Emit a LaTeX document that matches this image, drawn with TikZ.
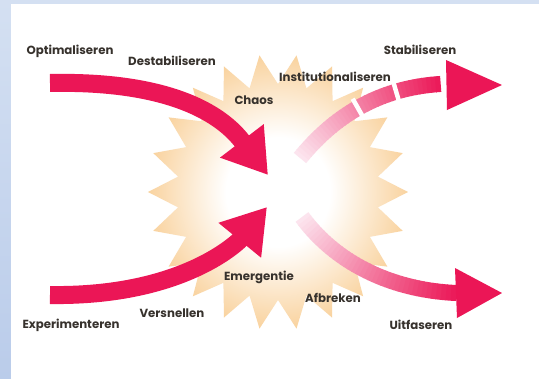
\documentclass[tikz,border=0pt]{standalone}
\usepackage{fontspec}
\setmainfont{Poppins}
\usetikzlibrary{arrows.meta}

\definecolor{crimson}{RGB}{235,22,86}
\definecolor{palePink}{RGB}{252,228,238}
\definecolor{starPeach}{RGB}{248,202,140}
\definecolor{labelGray}{RGB}{55,50,45}
\definecolor{frameTop}{RGB}{212,224,242}
\definecolor{frameBottom}{RGB}{186,204,234}

\pgfdeclareradialshading{starglow}{\pgfpoint{0bp}{0bp}}{%
    color(0bp)=(white); color(10bp)=(white);
    color(28bp)=(starPeach); color(50bp)=(starPeach)}

\tikzset{
    lbl/.style={font=\bfseries\fontsize{6.7}{8}\selectfont, text=labelGray, inner sep=0pt},
    flow/.style={line width=0.36cm, draw=crimson, -{Triangle[length=0.86cm,width=1.04cm]}},
    fadebit/.style={line width=0.32cm, line cap=butt, shorten >=-0.4pt},
    gapbar/.style={sloped, fill=white, inner sep=0pt, minimum width=0.09cm, minimum height=0.42cm}
}

\begin{document}
\begin{tikzpicture}[x=0.02cm, y=-0.02cm]
    \useasboundingbox (0,0) rectangle (539,379);
    % Frame
    \fill[white] (0,0) rectangle (539,379);
    \fill[top color=frameTop, bottom color=frameBottom] (0,0) rectangle (11,379);
    \fill[frameTop] (0,0) rectangle (539,4);
    % Burst
    \coordinate (burst) at (278,192);
    \begin{scope}[shift={(burst)}]
        \shade[shading=starglow] (0:130 and 138)
            \foreach \i in {0,...,21} {
                -- ({(\i+0.5)*360/22}:101 and 108) -- ({(\i+1)*360/22}:130 and 138)
            } -- cycle;
    \end{scope}
    % Points
    \coordinate (optStart) at (50,83);
    \coordinate (tlTip) at (268,175);
    \coordinate (expStart) at (50,295);
    \coordinate (blTip) at (267,207);
    \coordinate (trStart) at (300,158);
    \coordinate (trEnd) at (440,84);
    \coordinate (trHeadA) at (446,60);
    \coordinate (trTip) at (502,85);
    \coordinate (trHeadB) at (447,110);
    \coordinate (brStart) at (302,217);
    \coordinate (brEnd) at (456,293);
    \coordinate (brHeadA) at (455,268);
    \coordinate (brTip) at (502,293);
    \coordinate (brHeadB) at (457,318);
    % Incoming arrows
    \draw[flow] (optStart) .. controls (192,80) and (232,128) .. (tlTip);
    \draw[flow] (expStart) .. controls (185,297) and (240,240) .. (blTip);
    % Outgoing arrows
    \path (trStart) .. controls (335,115) and (380,88) .. (trEnd)
        \foreach \k [evaluate=\k as \p using \k/40] in {0,...,40} { coordinate[pos=\p] (tr\k) };
    \foreach \k [count=\n from 1, evaluate=\k as \mix using 2.5*\k] in {0,...,39}
        \draw[fadebit, draw=crimson!\mix!palePink] (tr\k) -- (tr\n);
    \path (trStart) .. controls (335,115) and (380,88) .. (trEnd)
        node[gapbar, pos=0.48] (gapA) {} node[gapbar, pos=0.74] (gapB) {};
    \fill[crimson] (trHeadA) -- (trTip) -- (trHeadB) -- cycle;

    \path (brStart) .. controls (335,262) and (390,290) .. (brEnd)
        \foreach \k [evaluate=\k as \p using \k/40] in {0,...,40} { coordinate[pos=\p] (br\k) };
    \foreach \k [count=\n from 1, evaluate=\k as \mix using 2.5*\k] in {0,...,39}
        \draw[fadebit, draw=crimson!\mix!palePink] (br\k) -- (br\n);
    \fill[crimson] (brHeadA) -- (brTip) -- (brHeadB) -- cycle;
    % Labels
    \node[lbl] (optLbl) at (70,51) {Optimaliseren};
    \node[lbl] (destLbl) at (172,61) {Destabiliseren};
    \node[lbl] (chaosLbl) at (254,100) {Chaos};
    \node[lbl] (instLbl) at (335,77) {Institutionaliseren};
    \node[lbl] (stabLbl) at (420,50) {Stabiliseren};
    \node[lbl] (emerLbl) at (259,277) {Emergentie};
    \node[lbl] (afbrLbl) at (333,298) {Afbreken};
    \node[lbl] (versLbl) at (172,313) {Versnellen};
    \node[lbl] (expLbl) at (71,325) {Experimenteren};
    \node[lbl] (uitLbl) at (421,325) {Uitfaseren};
\end{tikzpicture}
\end{document}
